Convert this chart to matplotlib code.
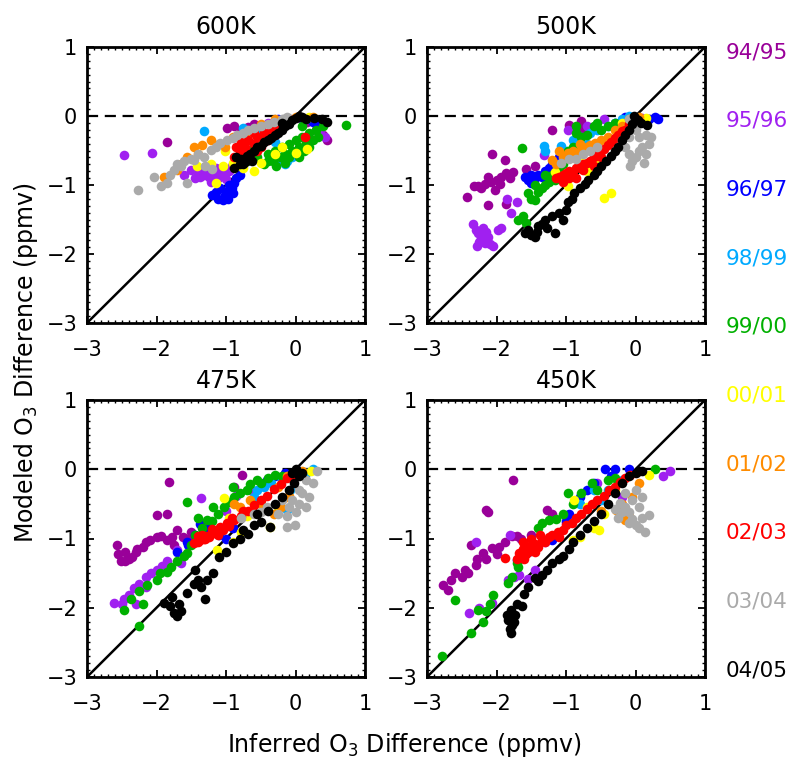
import matplotlib
matplotlib.use("Agg")
import matplotlib.pyplot as plt
from matplotlib.ticker import MultipleLocator

plt.rcParams['font.family'] = ['DejaVu Sans']

seasons = ['94/95', '95/96', '96/97', '98/99', '99/00',
           '00/01', '01/02', '02/03', '03/04', '04/05']
colors = ['#990099', '#A020F0', '#0000FF', '#00AAFF', '#00B000',
          '#FFFF00', '#FF8C00', '#FF0000', '#AAAAAA', '#000000']
titles = ['600K', '500K', '475K', '450K']

# (inferred, modeled) ozone differences, one list per season, per level
pts_600 = [
    [(-1.85, -0.37), (-0.98, -0.17), (-0.88, -0.15), (-0.79, -0.2), (-0.69, -0.16), (-0.6, -0.12),
     (-0.5, -0.19), (0.17, -0.08), (0.4, -0.27), (0.45, -0.35), (-0.31, -0.1), (0.3, -0.2)],
    [(-2.47, -0.56), (-2.06, -0.53), (-1.5, -0.78), (-1.4, -0.8), (-1.32, -0.85), (-1.25, -0.88),
     (-1.2, -0.82), (-1.12, -0.9), (-1.05, -0.85), (-1.0, -0.92), (-0.95, -0.8), (-1.3, -0.75),
     (-1.15, -0.76), (-1.38, -0.88), (-0.92, -0.72), (-0.4, -0.1), (0.1, -0.05), (0.3, -0.12),
     (0.42, -0.3), (0.35, -0.22), (-1.6, -0.85), (-1.22, -0.95), (-1.08, -0.8), (-1.45, -0.9)],
    [(-1.2, -1.15), (-1.12, -1.2), (-1.05, -1.22), (-0.97, -1.2), (-1.0, -1.1), (-0.92, -1.05),
     (-0.88, -0.97), (-0.85, -0.9), (-1.08, -1.05), (-0.95, -1.0), (-0.8, -0.85), (-1.15, -1.1),
     (0.25, -0.08), (0.1, -0.03), (-0.25, -0.05), (-0.6, -0.4), (-0.7, -0.5), (0.33, -0.1),
     (-1.02, -1.15), (-0.9, -1.12)],
    [(-1.32, -0.22), (-0.75, -0.17), (-0.45, -0.3), (-0.3, -0.38), (-0.15, -0.7), (-0.12, -0.65),
     (-0.35, -0.6), (-0.25, -0.66), (-0.05, -0.6), (0.0, -0.5), (-0.55, -0.25), (-0.2, -0.12),
     (0.15, -0.05)],
    [(-0.55, -0.6), (-0.45, -0.7), (-0.4, -0.55), (-0.33, -0.65), (-0.3, -0.5), (-0.22, -0.6),
     (-0.2, -0.45), (-0.15, -0.55), (-0.1, -0.4), (-0.05, -0.5), (0.0, -0.35), (0.05, -0.45),
     (0.1, -0.3), (0.15, -0.38), (0.2, -0.25), (0.25, -0.35), (0.3, -0.2), (0.33, -0.3),
     (-0.6, -0.45), (-0.5, -0.35), (-0.35, -0.3), (-0.25, -0.2), (0.4, -0.15), (0.1, -0.15),
     (-0.7, -0.65), (-0.28, -0.72), (-0.15, -0.68), (0.05, -0.6), (0.72, -0.13), (-0.4, -0.65),
     (-0.1, -0.6), (0.2, -0.45), (0.12, -0.5)],
    [(-1.42, -0.73), (-1.22, -0.7), (-1.15, -0.97), (-1.05, -0.72), (-1.02, -0.5), (-0.9, -0.68),
     (-0.6, -0.8), (-0.5, -0.68), (-0.3, -0.55), (0.0, -0.53), (0.17, -0.48), (-0.75, -0.75),
     (-0.2, -0.45), (0.2, -0.02)],
    [(-1.89, -0.88), (-1.56, -0.6), (-1.46, -0.45), (-1.35, -0.42), (-1.22, -0.35), (-1.1, -0.4),
     (-0.9, -0.3), (-0.7, -0.25), (-0.5, -0.12), (-0.3, -0.05), (0.0, -0.01), (0.25, -0.01),
     (-1.65, -0.7), (-1.4, -0.55), (-1.02, -0.45), (-1.7, -0.78)],
    [(-0.88, -0.6), (-0.8, -0.5), (-0.75, -0.6), (-0.72, -0.45), (-0.68, -0.35), (-0.65, -0.55),
     (-0.6, -0.4), (-0.55, -0.3), (-0.5, -0.45), (-0.45, -0.25), (-0.4, -0.35), (-0.35, -0.2),
     (-0.3, -0.28), (-0.25, -0.15), (-0.2, -0.1), (-0.1, -0.05), (0.13, -0.3), (-0.6, -0.25),
     (-0.85, -0.45), (-0.78, -0.38), (-0.55, -0.5), (-0.7, -0.52)],
    [(-2.26, -1.07), (-2.04, -0.88), (-1.94, -1.02), (-1.85, -0.97), (-1.75, -0.78), (-1.65, -0.73),
     (-1.56, -0.97), (-1.8, -0.85), (-1.7, -0.7), (-1.6, -0.65), (-1.5, -0.62), (-1.46, -0.64),
     (-1.4, -0.55), (-1.32, -0.59), (-1.22, -0.49), (-1.15, -0.45), (-1.08, -0.39), (-0.98, -0.35),
     (-0.9, -0.32), (-0.84, -0.27), (-0.75, -0.25), (-0.69, -0.2), (-0.6, -0.18), (-0.5, -0.15),
     (-0.4, -0.12), (-0.31, -0.08), (-0.2, -0.05), (-0.12, -0.01), (-1.3, -0.72), (-1.2, -0.77)],
    [(-0.88, -0.75), (-0.85, -0.6), (-0.78, -0.63), (-0.75, -0.7), (-0.7, -0.58), (-0.65, -0.55),
     (-0.6, -0.5), (-0.55, -0.45), (-0.5, -0.43), (-0.45, -0.38), (-0.4, -0.35), (-0.35, -0.32),
     (-0.3, -0.28), (-0.25, -0.25), (-0.2, -0.2), (-0.15, -0.15), (-0.1, -0.12), (-0.05, -0.06),
     (0.0, -0.03), (0.05, 0.0), (0.1, -0.02), (0.15, -0.05), (0.26, -0.03), (0.38, -0.05),
     (0.45, -0.08), (-0.62, -0.65), (-0.72, -0.67), (-0.8, -0.7), (-0.2, -0.1)],
]

pts_500 = [
    [(-2.43, -1.17), (-2.33, -1.02), (-2.26, -1.01), (-2.17, -0.98), (-2.12, -0.88), (-2.08, -0.95),
     (-1.99, -0.93), (-1.93, -0.88), (-1.86, -0.83), (-1.81, -0.9), (-1.76, -0.81), (-2.12, -1.29),
     (-1.86, -1.28), (-2.07, -0.55), (-1.88, -0.64), (-1.57, -0.77), (-1.45, -0.73), (-1.2, -0.2),
     (-0.78, -0.07), (-0.78, -0.2), (-0.95, -0.13), (-2.02, -1.07), (-2.22, -1.05), (-1.95, -0.98)],
    [(-2.34, -1.56), (-2.3, -1.65), (-2.27, -1.7), (-2.22, -1.77), (-2.2, -1.62), (-2.17, -1.84),
     (-2.25, -1.82), (-2.28, -1.88), (-2.12, -1.75), (-2.1, -1.85), (-2.15, -1.68), (-2.05, -1.88),
     (-1.98, -1.65), (-1.93, -1.62), (-1.79, -1.41), (-1.71, -1.24), (-1.85, -1.2), (-1.31, -0.56),
     (-0.97, -0.2), (-0.2, -0.13), (-0.7, -0.15), (0.1, -0.03), (-0.45, -0.05)],
    [(-1.59, -0.88), (-1.55, -0.93), (-1.5, -0.97), (-1.45, -0.9), (-1.4, -0.85), (-1.35, -0.88),
     (-1.3, -0.8), (-1.25, -0.75), (-1.2, -0.7), (-1.5, -0.85), (-1.1, -0.6), (0.04, -0.03),
     (0.2, -0.05), (0.33, -0.04), (0.28, -0.02), (-0.3, -0.1), (-0.15, -0.02)],
    [(-1.31, -0.44), (-1.07, -0.44), (-0.9, -0.35), (-0.78, -0.3), (-0.65, -0.25), (-0.55, -0.2),
     (-0.4, -0.15), (-0.3, -0.1), (-1.3, -0.5), (-1.0, -0.5), (-0.85, -0.45), (-0.7, -0.4),
     (-0.2, -0.05), (-0.1, 0.0)],
    [(-1.64, -0.47), (-1.54, -1.12), (-1.69, -1.5), (-1.62, -1.45), (-1.58, -1.55), (-1.5, -1.2),
     (-1.45, -1.22), (-1.4, -1.1), (-1.35, -1.05), (-1.3, -1.0), (-1.25, -0.95), (-1.16, -0.93),
     (-1.2, -0.85), (-1.1, -0.75), (-0.97, -0.5), (-0.9, -0.45), (-0.78, -0.3), (-0.7, -0.28),
     (-0.85, -0.25), (-0.6, -0.15), (-0.55, -0.1), (-0.5, -0.2), (-0.4, -0.15), (-0.85, -0.15),
     (-1.0, -0.6), (-1.05, -0.7), (-1.3, -0.85), (-1.45, -1.0), (-0.3, -0.1)],
    [(-1.16, -0.81), (-0.97, -1.02), (-1.0, -0.95), (-0.7, -0.8), (-0.45, -1.19), (-0.35, -1.12),
     (-0.15, -0.27), (-0.2, -0.1), (0.15, -0.03), (-0.8, -0.6), (-0.6, -0.65)],
    [(-1.2, -0.64), (-1.15, -0.7), (-1.05, -0.6), (-0.97, -0.54), (-0.9, -0.5), (-0.85, -0.55),
     (-0.78, -0.49), (-0.7, -0.45), (-0.65, -0.42), (-0.58, -0.39), (-0.5, -0.35), (-0.4, -0.3),
     (-0.3, -0.2), (-0.2, -0.15), (-0.1, -0.05), (0.05, -0.02), (-1.1, -0.5), (-0.8, -0.4)],
    [(-1.15, -0.9), (-1.1, -0.88), (-1.05, -0.85), (-1.0, -0.82), (-0.95, -0.8), (-0.9, -0.85),
     (-0.85, -0.75), (-0.8, -0.72), (-0.75, -0.78), (-0.7, -0.68), (-0.65, -0.65), (-0.6, -0.6),
     (-0.55, -0.55), (-0.5, -0.5), (-0.45, -0.48), (-0.4, -0.42), (-0.35, -0.38), (-0.3, -0.32),
     (-0.25, -0.28), (-0.2, -0.22), (-0.15, -0.2), (-0.1, -0.12), (-0.05, -0.08), (-1.05, -0.95),
     (-0.85, -0.9), (-0.6, -0.72), (-0.95, -0.9), (-0.75, -0.7), (-0.5, -0.6)],
    [(-1.07, -0.68), (-0.95, -0.62), (-0.85, -0.62), (-0.75, -0.55), (-0.65, -0.5), (-0.55, -0.45),
     (-0.2, -0.35), (-0.15, -0.45), (-0.1, -0.55), (-0.05, -0.65), (0.0, -0.6), (0.05, -0.5),
     (0.1, -0.45), (0.15, -0.55), (0.2, -0.4), (0.23, -0.3), (0.15, -0.28), (0.05, -0.3),
     (-0.1, -0.3), (0.0, -0.2), (-0.1, -0.05), (0.12, -0.68), (-0.08, -0.72)],
    [(-1.59, -1.7), (-1.55, -1.65), (-1.5, -1.73), (-1.45, -1.76), (-1.42, -1.68), (-1.4, -1.6),
     (-1.35, -1.56), (-1.3, -1.5), (-1.28, -1.62), (-1.16, -1.7), (-1.2, -1.45), (-1.1, -1.4),
     (-1.0, -1.36), (-0.97, -1.25), (-0.92, -1.2), (-0.88, -1.12), (-0.8, -1.05), (-0.72, -0.98),
     (-0.68, -0.93), (-0.6, -0.85), (-0.55, -0.8), (-0.5, -0.72), (-0.42, -0.65), (-0.35, -0.58),
     (-0.3, -0.5), (-0.25, -0.45), (-0.2, -0.35), (-0.15, -0.28), (-0.1, -0.2), (-0.05, -0.12),
     (0.0, -0.05), (0.04, -0.06), (0.08, -0.1), (-0.02, 0.0), (0.17, -0.13), (-1.05, -1.5)],
]

pts_475 = [
    [(-2.57, -1.09), (-2.55, -1.23), (-2.51, -1.33), (-2.45, -1.32), (-2.4, -1.3), (-2.35, -1.27),
     (-2.3, -1.2), (-2.28, -1.15), (-2.2, -1.12), (-2.15, -1.05), (-2.09, -1.02), (-2.0, -0.98),
     (-1.94, -0.97), (-1.85, -1.02), (-1.78, -0.98), (-1.7, -0.88), (-1.62, -0.98), (-1.55, -1.0),
     (-1.46, -1.02), (-1.99, -0.66), (-1.85, -0.64), (-1.82, -0.18), (-0.77, -0.09), (-0.88, -0.26),
     (-1.75, -1.1), (-2.45, -1.2), (-1.5, -0.9)],
    [(-2.61, -1.93), (-2.5, -1.95), (-2.47, -1.88), (-2.4, -1.82), (-2.33, -1.72), (-2.25, -1.65),
     (-2.15, -1.55), (-2.08, -1.5), (-2.0, -1.45), (-1.92, -1.4), (-1.85, -1.33), (-1.71, -1.17),
     (-1.65, -1.35), (-1.36, -0.42), (-1.0, -0.6), (-0.85, -0.38), (-0.65, -0.3), (-0.4, -0.15),
     (-2.3, -1.95), (-2.15, -1.7)],
    [(-1.7, -1.19), (-1.56, -1.05), (-1.45, -0.95), (-1.37, -0.79), (-1.28, -0.85), (-1.2, -0.9),
     (-1.1, -0.95), (-1.0, -1.0), (-0.9, -0.85), (-0.75, -0.65), (-0.6, -0.45), (-0.41, -0.16),
     (-0.3, -0.1), (-0.15, -0.05), (0.05, -0.02), (-1.55, -1.1)],
    [(-0.55, -0.3), (-0.45, -0.25), (-0.35, -0.2), (-0.12, -0.59), (-0.08, -0.3), (-0.2, -0.15),
     (-0.6, -0.4), (0.15, -0.05), (0.25, 0.0)],
    [(-2.47, -2.03), (-2.37, -1.88), (-2.25, -1.76), (-2.14, -1.67), (-2.0, -1.6), (-1.95, -1.5),
     (-1.85, -1.48), (-1.79, -1.41), (-1.7, -1.32), (-1.6, -1.25), (-1.56, -1.21), (-1.5, -1.1),
     (-1.56, -0.47), (-1.45, -0.95), (-1.35, -0.85), (-1.27, -0.74), (-1.2, -0.75), (-1.12, -0.65),
     (-1.03, -0.54), (-0.95, -0.48), (-0.88, -0.4), (-0.8, -0.35), (-0.7, -0.3), (-0.55, -0.16),
     (-0.5, -0.2), (-0.4, -0.12), (-0.3, -0.08), (-0.2, -0.1), (-2.25, -2.27), (-2.2, -1.95),
     (-1.4, -0.7), (-1.18, -0.55), (-0.9, -0.25), (-0.65, -0.22)],
    [(-1.03, -0.42), (-0.95, -0.7), (-0.79, -0.9), (-0.9, -1.05), (-1.13, -1.17), (-0.36, -0.83),
     (0.23, -0.02), (-0.25, -0.55), (-0.7, -0.68)],
    [(-0.88, -0.5), (-0.8, -0.55), (-0.65, -0.45), (-0.5, -0.5), (-0.31, -0.64), (-0.21, -0.54),
     (-0.17, -0.42), (-0.1, -0.38), (-0.25, -0.25), (-0.12, -0.1), (0.1, -0.02)],
    [(-1.46, -1.07), (-1.41, -0.97), (-1.37, -1.02), (-1.32, -1.0), (-1.27, -0.97), (-1.22, -0.93),
     (-1.17, -0.9), (-1.08, -0.83), (-0.98, -0.78), (-0.88, -0.73), (-0.79, -0.68), (-0.69, -0.61),
     (-0.6, -0.52), (-0.5, -0.45), (-0.41, -0.38), (-0.31, -0.28), (-0.21, -0.21), (-0.12, -0.13),
     (-0.02, -0.09), (-1.4, -1.05), (-1.3, -1.0), (-1.25, -0.98), (-1.15, -0.92), (-1.05, -0.88),
     (-0.95, -0.82), (-1.35, -0.95), (-1.2, -0.87), (-1.12, -0.95), (-0.92, -0.7), (-0.75, -0.6)],
    [(-0.79, -0.71), (-0.6, -0.64), (-0.5, -0.62), (-0.41, -0.55), (-0.25, -0.64), (-0.12, -0.68),
     (-0.1, -0.55), (-0.12, -0.83), (-0.01, -0.8), (-0.05, -0.45), (0.0, -0.62), (0.05, -0.5),
     (0.1, -0.35), (0.2, -0.4), (0.25, -0.2), (0.31, -0.02), (0.15, -0.15), (-0.2, -0.45),
     (0.05, -0.3), (0.15, -0.55)],
    [(-1.89, -1.93), (-1.8, -1.98), (-1.75, -2.08), (-1.7, -2.12), (-1.65, -2.05), (-1.78, -1.85),
     (-1.68, -1.95), (-1.56, -1.79), (-1.46, -1.65), (-1.41, -1.6), (-1.36, -1.7), (-1.3, -1.88),
     (-1.27, -1.6), (-1.18, -1.5), (-1.1, -1.26), (-1.0, -1.2), (-0.9, -1.07), (-0.8, -1.0),
     (-0.69, -0.93), (-0.6, -0.8), (-0.5, -0.76), (-0.36, -0.83), (-0.4, -0.6), (-0.3, -0.5),
     (-0.2, -0.4), (-0.1, -0.3), (-0.02, -0.2), (0.05, -0.1), (0.0, 0.0), (-0.05, -0.05),
     (0.1, -0.05), (-1.45, -1.45), (-0.75, -0.88), (-0.55, -0.65)],
]

pts_450 = [
    [(-2.77, -1.67), (-2.7, -1.74), (-2.6, -1.5), (-2.5, -1.55), (-2.41, -1.5), (-2.45, -1.45),
     (-2.36, -1.09), (-2.28, -1.3), (-2.2, -1.21), (-2.15, -1.3), (-2.06, -1.14), (-2.0, -1.22),
     (-1.96, -1.12), (-1.88, -1.05), (-1.77, -0.97), (-1.7, -0.97), (-1.65, -1.0), (-2.15, -0.59),
     (-2.12, -0.62), (-1.76, -0.16), (-1.28, -0.59), (-1.2, -0.65), (-1.5, -0.95), (-2.65, -1.6),
     (-2.3, -1.38)],
    [(-2.39, -2.08), (-2.25, -2.0), (-2.06, -1.93), (-1.83, -1.6), (-1.75, -1.55), (-1.68, -1.52),
     (-1.55, -1.58), (-1.45, -1.45), (-1.3, -1.05), (-1.0, -0.78), (-0.2, -0.4), (-0.55, -0.2),
     (-1.8, -0.95), (-2.3, -1.05), (0.5, -0.02), (0.4, -0.1)],
    [(-1.7, -1.31), (-1.55, -1.2), (-1.2, -1.02), (-1.0, -0.75), (-0.8, -0.4), (-0.44, 0.01),
     (-0.3, 0.0), (-0.1, 0.0), (-0.6, -0.2), (-0.95, -0.65), (-0.7, -0.3), (-0.35, -0.1)],
    [(-0.8, -0.5), (-0.5, -0.45), (-0.4, -0.3), (-0.6, -0.3), (-0.2, -0.15)],
    [(-2.79, -2.7), (-2.6, -1.89), (-2.36, -2.36), (-2.27, -2.03), (-2.2, -2.2), (-2.15, -2.05),
     (-2.1, -1.95), (-1.83, -1.64), (-1.78, -1.55), (-1.69, -1.41), (-1.65, -1.27), (-1.35, -0.78),
     (-1.25, -0.74), (-1.15, -0.72), (-1.05, -0.65), (-0.97, -0.35), (-0.78, -0.35), (-0.63, -0.2),
     (-0.55, -0.3), (-0.4, -0.16), (-0.3, -0.12), (0.28, 0.0), (-0.9, -0.5), (-1.4, -0.85),
     (-1.7, -1.35), (-2.05, -1.82)],
    [(-0.9, -1.02), (-0.8, -0.98), (-0.6, -0.85), (-0.52, -0.88), (-0.3, -0.3), (0.19, -0.09),
     (-0.88, -0.45), (-0.7, -0.55), (-0.45, -0.65)],
    [(-0.28, -0.59), (-0.15, -0.73), (-0.1, -0.68), (-0.2, -0.5), (-0.05, -0.4), (-0.5, -0.6),
     (0.05, -0.2)],
    [(-1.88, -1.28), (-1.68, -1.21), (-1.65, -1.25), (-1.62, -1.15), (-1.58, -1.22), (-1.55, -1.12),
     (-1.5, -1.18), (-1.45, -1.08), (-1.4, -1.12), (-1.35, -1.02), (-1.3, -1.05), (-1.25, -0.98),
     (-1.2, -0.95), (-1.12, -0.9), (-1.05, -0.88), (-1.0, -0.8), (-0.92, -0.78), (-0.85, -0.7),
     (-0.78, -0.65), (-0.7, -0.58), (-0.62, -0.5), (-0.55, -0.45), (-0.45, -0.38), (-0.38, -0.3),
     (-0.3, -0.25), (-0.22, -0.18), (-0.15, -0.12), (-0.08, -0.08), (-1.7, -1.3), (-1.6, -1.3),
     (-1.5, -1.0), (-1.38, -0.95), (-1.62, -1.05), (-1.45, -1.2), (-1.1, -0.98)],
    [(-0.23, -0.49), (-0.15, -0.55), (-0.1, -0.62), (-0.05, -0.72), (0.0, -0.8), (0.05, -0.85),
     (0.13, -0.9), (-0.2, -0.62), (-0.3, -0.58), (-0.1, -0.78), (0.19, -0.66), (0.05, -0.55),
     (-0.05, -0.45), (0.1, -0.4), (0.0, -0.3), (-0.15, -0.35), (0.1, -0.7), (-0.25, -0.7)],
    [(-1.79, -2.03), (-1.83, -2.17), (-1.8, -2.3), (-1.79, -2.36), (-1.75, -2.2), (-1.73, -2.1),
     (-1.7, -1.95), (-1.64, -1.98), (-1.6, -1.8), (-1.55, -1.7), (-1.45, -1.57), (-1.4, -1.62),
     (-1.35, -1.52), (-1.28, -1.45), (-1.2, -1.35), (-1.1, -1.3), (-1.05, -1.25), (-0.95, -1.15),
     (-0.9, -1.05), (-0.8, -0.95), (-0.7, -0.85), (-0.6, -0.75), (-0.5, -0.65), (-0.4, -0.5),
     (-0.3, -0.35), (-0.2, -0.2), (-0.1, -0.1), (0.0, -0.06), (0.05, -0.02), (0.1, -0.02),
     (-1.85, -2.1), (-1.77, -2.25)],
]

panels = [pts_600, pts_500, pts_475, pts_450]

fig = plt.figure(figsize=(8.01, 7.68), dpi=100)
W, H = 801.0, 768.0
# panel boxes in pixels: left, top, width, height
boxes = [(87, 47, 278, 276), (427, 47, 278, 276), (87, 400, 278, 277), (427, 400, 278, 277)]

for k in range(4):
    l, t, w, h = boxes[k]
    ax = fig.add_axes([l / W, 1 - (t + h) / H, w / W, h / H])
    ax.plot([-3, 1], [-3, 1], color='black', lw=1.8, zorder=1)
    ax.plot([-3, 1], [0, 0], color='black', lw=1.6, ls=(0, (5, 3)), zorder=1)
    for s in range(len(seasons)):
        xs = [p[0] for p in panels[k][s]]
        ys = [p[1] for p in panels[k][s]]
        ax.scatter(xs, ys, s=48, color=colors[s], linewidths=0, zorder=2 + s)
    ax.set_xlim(-3, 1)
    ax.set_ylim(-3, 1)
    ax.xaxis.set_major_locator(MultipleLocator(1))
    ax.yaxis.set_major_locator(MultipleLocator(1))
    ax.xaxis.set_minor_locator(MultipleLocator(0.1))
    ax.yaxis.set_minor_locator(MultipleLocator(0.1))
    ax.tick_params(which='major', length=5, width=1.3)
    ax.tick_params(which='minor', length=2.5, width=1)
    ax.tick_params(which='both', direction='in', top=True, right=True)
    ax.tick_params(axis='x', which='major', pad=12, labelsize=15)
    ax.tick_params(axis='y', which='major', pad=7, labelsize=15)
    for sp in ax.spines.values():
        sp.set_linewidth(2)
    ax.set_title(titles[k], fontsize=17, pad=9)

for s in range(len(seasons)):
    fig.text(726 / W, 1 - (52 + s * 68.7) / H, seasons[s], color=colors[s],
             fontsize=15.5, va='center', ha='left')

fig.text(26 / W, 1 - 362 / H, 'Modeled O$_3$ Difference (ppmv)', rotation=90,
         fontsize=17, va='center', ha='center')
fig.text(404 / W, 1 - 745 / H, 'Inferred O$_3$ Difference (ppmv)',
         fontsize=17, va='center', ha='center')

fig.savefig('out.png', dpi=100)
